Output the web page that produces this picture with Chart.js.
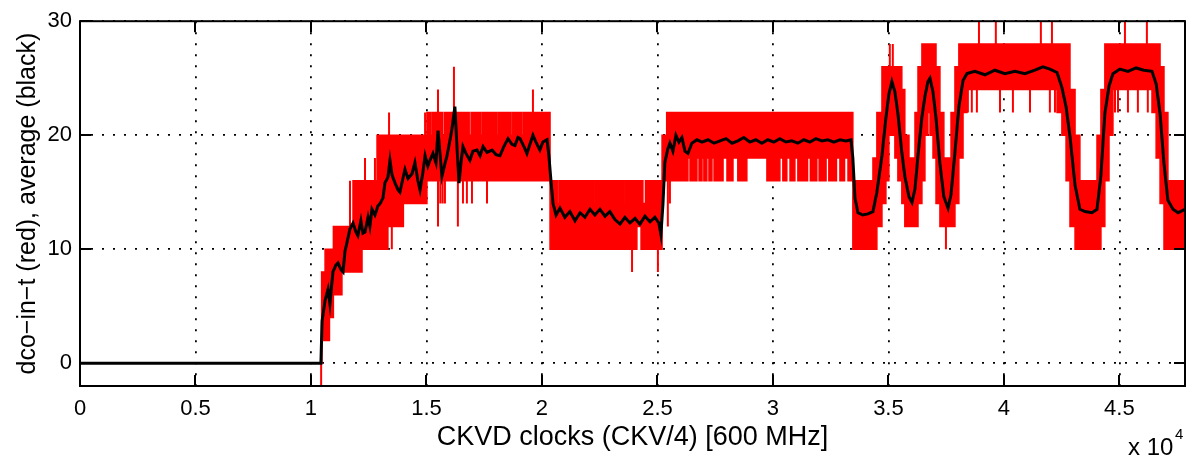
<!DOCTYPE html>
<html><head><meta charset="utf-8">
<script src="https://cdn.jsdelivr.net/npm/chart.js@4.4.0/dist/chart.umd.min.js"></script>
<style>html,body{margin:0;padding:0;background:#fff;overflow:hidden}</style>
</head><body>
<canvas id="c" width="1194" height="458"></canvas>
<script>
const xTicks = [0, 5000, 10000, 15000, 20000, 25000, 30000, 35000, 40000, 45000];
const yTicks = [0, 10, 20, 30];

// black: running average
const avgX = [0,10430,10480,10610,10740,10820,10950,11080,11170,11300,
11390,11470,11560,11690,11820,11950,12030,12160,12250,12340,
12470,12550,12640,12770,12900,12990,13120,13200,13330,13420,
13510,13640,13770,13850,13980,14070,14200,14370,14500,14630,
14720,14850,14940,15060,15150,15280,15410,15500,15580,15670,
15800,15890,16020,16100,16230,16320,16410,16490,16580,16710,
16880,17010,17190,17320,17450,17620,17840,18010,18180,18350,
18530,18700,18830,18960,19050,19220,19350,19480,19610,19740,
19910,20040,20220,20300,20390,20480,20610,20780,20990,21210,
21430,21650,21860,22080,22290,22510,22730,22940,23160,23380,
23590,23810,24030,24240,24460,24680,24890,25060,25150,25240,
25320,25450,25540,25670,25800,25930,26060,26190,26320,26490,
26710,26930,27190,27450,27710,27970,28230,28480,28740,29000,
29260,29520,29780,30040,30300,30560,30820,31080,31340,31600,
31860,32120,32380,32640,32900,33160,33380,33460,33550,33680,
33890,34110,34330,34500,34720,34890,35020,35150,35280,35410,
35580,35710,35890,36020,36150,36280,36450,36580,36710,36800,
36930,37060,37230,37400,37580,37710,37880,38050,38230,38400,
38740,39180,39610,40040,40480,40910,41340,41690,41990,42300,
42510,42690,42860,43080,43290,43510,43810,44030,44200,44370,
44550,44720,45020,45370,45720,46060,46410,46590,46760,46930,
47100,47320,47540,47840];
const avgY = [0,0,3.7,5.5,6.5,5.2,8,8.6,8.8,8.2,
8,9.8,10.6,11.8,12.3,11.5,11.2,12.5,11.4,11.5,
12.8,12,13.5,13,13.8,14,14.5,15.8,16.3,17.8,
16.5,15.8,15.2,15,16.2,17,16.2,16.6,17.6,16,
15.2,16.8,18.2,17.3,17.8,18.4,17.6,20.4,18.5,16.4,
17.5,18.2,19.6,20.5,22.5,19,15.8,17.5,19,18.4,
17.8,18.6,18.7,18.2,19,18.5,18.7,18.3,18.2,19,
19.7,19.2,19.1,19.8,19.7,19,18.4,19.2,20,19.4,
18.7,19.4,19.6,18.2,16,14,13,13.6,12.8,13.3,
12.5,13.2,12.8,13.5,13,13.5,12.9,13.3,12.6,12.2,
12.8,12.3,12.7,12.2,12.9,12.4,12.8,12.3,11.3,14,
17.6,18.8,19.3,18.6,20,19.4,19.8,18.6,18.4,19.3,
19.6,19.4,19.6,19.3,19.5,19.7,19.3,19.5,19.8,19.4,
19.6,19.3,19.6,19.4,19.7,19.4,19.5,19.3,19.6,19.4,
19.7,19.5,19.6,19.4,19.6,19.5,19.6,18,14.5,13.2,
13,13.1,13.3,15,18.2,21.5,23.6,24.7,23.8,21.9,
18.5,16.4,14.6,14.1,15.3,18.2,21.6,23.4,24.7,25,
23.8,21.5,17.5,14.6,13.6,14.8,18.5,22.5,24.8,25.4,
25.6,25.3,25.7,25.4,25.6,25.4,25.7,26,25.8,25.5,
24.2,22.5,19.9,15.6,13.5,13.3,13.2,13.5,16.5,21.9,
24.3,25.4,25.8,25.6,25.9,25.7,25.6,24.5,21.9,17.5,
14.3,13.5,13.2,13.5];

// red: raw dco-in-t, read as upper / lower envelope, each value held until the next knot
const redX = [0,10460,10610,10800,10970,11340,11820,12210,12860,13330,14000,
15020,15180,15250,15700,15780,16850,16930,17350,17420,18060,18130,18640,18710,19140,19210,
20350,20690,20760,21520,21560,21650,21700,22290,22350,23590,23650,24110,24290,24370,24480,
25200,25400,26320,26410,26710,26800,26930,27010,27140,27230,27360,27450,27840,28010,28270,28480,
28870,29740,30300,30430,30600,30740,30950,31080,31500,31620,31900,32000,32300,32420,32750,32900,33100,33250,
33460,34330,34500,34720,34890,35020,35150,35280,35410,35580,35710,35890,36150,36280,36450,36580,36710,36800,36930,
37060,37230,37400,37710,37880,38050,38230,38400,42300,42510,42690,42860,43080,43290,44030,44200,44370,44550,44720,
46410,46590,46760,46930,47100,47840];
const redHi = [0,8,10,10,12,12,16,16,20,20,20,
22,20,22,20,22,20,22,20,22,20,22,20,22,20,22,
16,14,16,14,16,14,16,14,16,14,16,16,16,14,16,
20,22,22,22,22,22,22,22,22,22,22,22,22,22,22,22,
22,22,22,22,22,22,22,22,22,22,22,22,22,22,22,22,22,22,
16,18,22,26,26,26,26,26,26,24,20,18,22,26,28,28,28,28,28,
26,22,18,22,26,28,28,28,28,28,28,24,20,16,20,24,28,28,28,
28,28,26,22,16,16];
const redLo = [0,2,2,4,6,8,8,10,10,12,14,
16,16,16,16,16,16,16,16,16,16,16,16,16,16,16,
10,10,10,10,10,10,10,10,10,10,10,12,10,10,10,
16,16,18,16,18,16,18,16,18,16,18,16,18,16,18,16,
18,16,18,16,18,16,18,16,18,16,18,16,18,16,18,16,18,16,
10,10,12,14,16,20,20,18,16,14,12,12,12,14,16,20,22,20,18,
14,12,12,12,14,18,22,24,22,20,16,12,10,10,10,12,16,20,24,
22,18,14,10,10,10];

// isolated red excursions
const spikeX = [10440,11690,12340,12770,13380,13290,13500,14940,15500,15500,15600,15700,15800,16190,16360,16580,16750,16970,17620,19610,
23900,25020,25450,25540,35060,35190,37490,38440,38610,38830,38920,39650,39830,40390,41130,41600,41990,42080,42210,44810,
44940,45240,45370,45800,46190,46230];
const spikeFrom = [2,12,16,16,20,12,12,20,22,16,16,16,16,22,16,16,16,16,16,22,
10,10,16,16,26,26,12,24,24,24,28,28,24,24,24,28,24,28,24,24,
24,28,24,24,28,24];
const spikeTo = [-3,16,18,18,22,10,10,22,24,12,14,14,14,26,12,14,14,14,14,24,
8,8,12,14,28,28,10,22,22,22,30,30,22,22,22,30,22,30,22,22,
22,30,22,22,30,22];

const FONT = '"Liberation Sans", Arial, Helvetica, sans-serif';
const RED = '#ff0000';

// step-shaped point lists for the envelope (value held until next knot)
function stepPoints(xs, vs) {
  const pts = [];
  xs.forEach((x, i) => {
    if (i > 0) pts.push({x, y: vs[i - 1]});
    pts.push({x, y: vs[i]});
  });
  return pts;
}

const avgData = avgX.map((x, i) => ({x, y: avgY[i]}));
const hiData = stepPoints(redX, redHi);
const loData = stepPoints(redX, redLo);
const spikeData = [];
spikeX.forEach((x, i) => {
  spikeData.push({x, y: spikeFrom[i]}, {x, y: spikeTo[i]}, {x, y: null});
});

const framePlugin = {
  id: 'frame',
  afterDraw(chart) {
    const {ctx, chartArea: {left, right, top, bottom}, scales: {x, y}} = chart;
    ctx.save();
    ctx.strokeStyle = '#000';
    ctx.lineWidth = 2;
    ctx.strokeRect(left, top, right - left, bottom - top);
    ctx.beginPath();
    xTicks.forEach(v => {
      const px = Math.round(x.getPixelForValue(v));
      ctx.moveTo(px, bottom); ctx.lineTo(px, bottom - 11);
      ctx.moveTo(px, top); ctx.lineTo(px, top + 11);
    });
    yTicks.forEach(v => {
      const py = Math.round(y.getPixelForValue(v));
      ctx.moveTo(left, py); ctx.lineTo(left + 11, py);
      ctx.moveTo(right, py); ctx.lineTo(right - 11, py);
    });
    ctx.stroke();
    ctx.fillStyle = '#000';
    ctx.textAlign = 'left';
    ctx.textBaseline = 'alphabetic';
    ctx.font = '24px ' + FONT;
    ctx.fillText('x 10', right - 57, 455);
    ctx.font = '15px ' + FONT;
    ctx.fillText('4', right - 10, 439);
    ctx.restore();
  }
};

new Chart(document.getElementById('c'), {
  type: 'line',
  data: {
    datasets: [
      {label: 'average', data: avgData, borderColor: '#000', borderWidth: 3, pointRadius: 0, fill: false, order: 0},
      {label: 'hi', data: hiData, borderColor: RED, backgroundColor: RED, borderWidth: 1.5, pointRadius: 0, fill: '+1', order: 2},
      {label: 'lo', data: loData, borderColor: RED, borderWidth: 1.5, pointRadius: 0, fill: false, order: 2},
      {label: 'spikes', data: spikeData, borderColor: RED, borderWidth: 2, pointRadius: 0, spanGaps: false, fill: false, order: 1}
    ]
  },
  options: {
    responsive: false,
    animation: false,
    events: [],
    layout: {padding: {top: 17, right: 9, left: 0, bottom: 0}},
    plugins: {legend: {display: false}, tooltip: {enabled: false}},
    scales: {
      x: {
        type: 'linear', min: 0, max: 47840,
        afterBuildTicks: s => { s.ticks = xTicks.map(v => ({value: v})); },
        afterFit: s => { s.height = 72; },
        ticks: {callback: v => String(v / 10000), font: {family: FONT, size: 22}, color: '#000', padding: 10, maxRotation: 0, autoSkip: false},
        grid: {color: '#000', lineWidth: 1.8, drawTicks: false},
        border: {display: false, dash: [2, 9]},
        title: {display: true, text: 'CKVD clocks (CKV/4) [600 MHz]', font: {family: FONT, size: 27}, color: '#000', padding: {top: 0, bottom: 4}}
      },
      y: {
        type: 'linear', min: -2, max: 30,
        afterBuildTicks: s => { s.ticks = yTicks.map(v => ({value: v})); },
        afterFit: s => { s.width = 80; },
        ticks: {callback: v => String(v), font: {family: FONT, size: 22}, color: '#000', padding: 8},
        grid: {color: '#000', lineWidth: 1.8, drawTicks: false},
        border: {display: false, dash: [2, 9]},
        title: {display: true, text: 'dco\u2212in\u2212t (red), average (black)', font: {family: FONT, size: 25}, color: '#000', padding: {top: 13, bottom: 0}}
      }
    }
  },
  plugins: [framePlugin]
});
</script>
</body></html>
